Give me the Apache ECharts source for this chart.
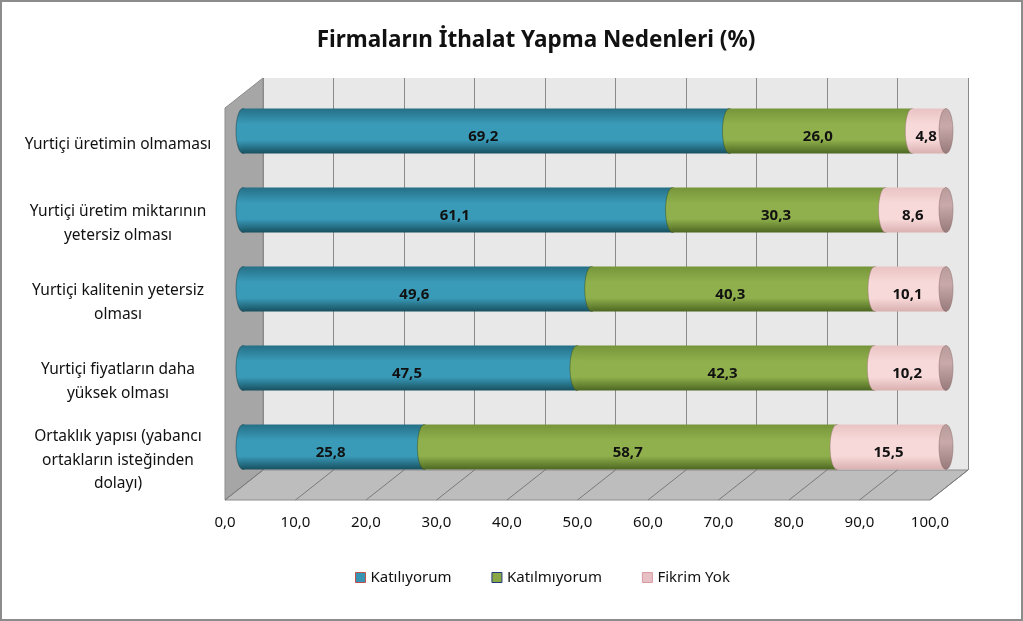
<!DOCTYPE html>
<html>
<head>
<meta charset="utf-8">
<script src="https://cdn.jsdelivr.net/npm/echarts@6/dist/echarts.min.js"></script>
<style>
  html, body { margin: 0; padding: 0; background: #fff; }
  #main { width: 1023px; height: 621px; }
</style>
</head>
<body>
<div id="main"></div>
<script>
const categories = [
  "Yurtiçi üretimin olmaması",
  "Yurtiçi üretim miktarının\nyetersiz olması",
  "Yurtiçi kalitenin yetersiz\nolması",
  "Yurtiçi fiyatların daha\nyüksek olması",
  "Ortaklık yapısı (yabancı\nortakların isteğinden\ndolayı)"
];
const katiliyorum = [69.2, 61.1, 49.6, 47.5, 25.8];
const katilmiyorum = [26.0, 30.3, 40.3, 42.3, 58.7];
const fikrimYok = [4.8, 8.6, 10.1, 10.2, 15.5];
const seriesNames = ["Katılıyorum", "Katılmıyorum", "Fikrim Yok"];
const xTicks = [0, 10, 20, 30, 40, 50, 60, 70, 80, 90, 100];

const W = 1023, H = 621;
// 3d kutu: ön düzlem + derinlik kaydırması
const front = { left: 225, right: 930, bottom: 500 };
const depthX = 38, depthY = 30;
const backTop = 78;
const FONT = "'Noto Sans', 'DejaVu Sans', sans-serif";

const palette = [
  { top: "#256f86", mid: "#3a9bb9", bot: "#17505f", edge: "rgba(10,50,60,0.45)", label: "#3795b3", border: "#c0504d" },
  { top: "#76953a", mid: "#8fb04c", bot: "#4d6722", edge: "rgba(50,70,20,0.45)", label: "#8aa745", border: "#1f3a7a" },
  { top: "#e9c3c3", mid: "#f8d9d9", bot: "#d9b0b0", edge: "rgba(150,110,110,0.45)", label: "#e6c0c4", border: "#d99aa0" }
];
const capColor = new echarts.graphic.LinearGradient(0, 0, 0, 1, [
  { offset: 0, color: "#b99b9b" }, { offset: 0.4, color: "#c9a9a9" }, { offset: 1, color: "#96797a" }
]);

function grad(p) {
  return new echarts.graphic.LinearGradient(0, 0, 0, 1, [
    { offset: 0, color: p.top },
    { offset: 0.35, color: p.mid },
    { offset: 0.7, color: p.mid },
    { offset: 1, color: p.bot }
  ]);
}

const stacks = [katiliyorum, katilmiyorum, fikrimYok];
function stackedData(k) {
  return categories.map((c, i) => {
    let s = 0;
    for (let j = 0; j < k; j++) s += stacks[j][i];
    return [s, i, s + stacks[k][i], stacks[k][i]];
  });
}

function barRenderer(k) {
  const p = palette[k];
  const last = k === stacks.length - 1;
  return function (params, api) {
    const cat = api.value(1);
    const p0 = api.coord([api.value(0), cat]);
    const p1 = api.coord([api.value(2), cat]);
    const h = 45, rx = 7;
    const cy = p0[1];
    const children = [
      { type: "ellipse", shape: { cx: p0[0], cy: cy, rx: rx, ry: h / 2 },
        style: { fill: grad(p), stroke: p.edge, lineWidth: 1 } },
      { type: "rect", shape: { x: p0[0], y: cy - h / 2, width: p1[0] - p0[0], height: h },
        style: { fill: grad(p) } }
    ];
    if (last) {
      children.push({ type: "ellipse", shape: { cx: p1[0], cy: cy, rx: rx, ry: h / 2 },
        style: { fill: capColor, stroke: "rgba(120,90,90,0.4)", lineWidth: 1 } });
    }
    children.push({ type: "text", x: (p0[0] + p1[0]) / 2 - 3, y: cy + 6,
      style: { text: api.value(3).toFixed(1).replace(".", ","), fill: "#111", font: "bold 15px " + FONT,
        align: "center", verticalAlign: "middle" } });
    return { type: "group", children: children };
  };
}

const chart = echarts.init(document.getElementById("main"));

const barSeries = seriesNames.map((name, k) => ({
  name: name,
  type: "custom",
  xAxisIndex: 0,
  yAxisIndex: 0,
  z: 5,
  itemStyle: { color: palette[k].label },
  renderItem: barRenderer(k),
  encode: { x: [0, 2], y: 1 },
  data: stackedData(k)
}));

const option = {
  backgroundColor: "#fff",
  animation: false,
  title: {
    text: "Firmaların İthalat Yapma Nedenleri (%)",
    left: 531,
    textAlign: "center",
    top: 24,
    textStyle: { fontFamily: FONT, fontSize: 22.5, fontWeight: "bold", color: "#111" }
  },
  legend: {
    top: 565,
    left: 350,
    itemWidth: 10,
    itemHeight: 10,
    itemGap: 40,
    textStyle: { fontFamily: FONT, fontSize: 15, color: "#111" },
    data: seriesNames.map((n, k) => ({
      name: n, icon: "rect",
      itemStyle: { color: palette[k].label, borderColor: palette[k].border, borderWidth: 1 }
    }))
  },
  grid: [
    // çubuklar
    { left: 243, right: W - 946, top: 91.5, height: 395, containLabel: false },
    // arka duvar
    { left: front.left + depthX, right: W - front.right - depthX, top: backTop,
      bottom: H - (front.bottom - depthY), show: true, backgroundColor: "#e8e8e8", borderWidth: 0 },
    // ön düzlem (etiketler, zemin)
    { left: front.left, right: W - front.right, top: front.bottom - 395, bottom: H - front.bottom }
  ],
  xAxis: [
    { gridIndex: 0, type: "value", min: 0, max: 100, show: false },
    { gridIndex: 1, type: "value", min: 0, max: 100, interval: 10,
      axisLine: { show: false }, axisTick: { show: false }, axisLabel: { show: false },
      splitLine: { show: true, lineStyle: { color: "#8a8a8a", width: 1 } } },
    { gridIndex: 2, type: "value", min: 0, max: 100, interval: 10,
      axisLine: { show: false }, axisTick: { show: false }, splitLine: { show: false },
      axisLabel: { margin: 15, color: "#111", fontFamily: FONT, fontSize: 15,
        formatter: v => v.toFixed(1).replace(".", ",") } }
  ],
  yAxis: [
    { gridIndex: 0, type: "category", data: categories, inverse: true, show: false },
    { gridIndex: 1, type: "category", data: categories, inverse: true, show: false },
    { gridIndex: 2, type: "category", data: categories, inverse: true,
      axisLine: { show: false }, axisTick: { show: false }, splitLine: { show: false },
      axisLabel: { margin: 107, align: "center", color: "#111", fontFamily: FONT, fontSize: 15.5,
        lineHeight: 23.5, padding: [6, 0, 0, 0] } }
  ],
  graphic: [
    { type: "rect", z: 100, silent: true, shape: { x: 1, y: 1, width: W - 2, height: H - 2 },
      style: { fill: "none", stroke: "#8c8c8c", lineWidth: 2 } },
    // sol duvar
    { type: "polygon", z: 0, silent: true,
      shape: { points: [[front.left, front.bottom], [front.left, backTop + depthY],
        [front.left + depthX, backTop], [front.left + depthX, front.bottom - depthY]] },
      style: { fill: "#a6a6a6", stroke: "#8c8c8c", lineWidth: 1 } },
    // zemin
    { type: "polygon", z: 0, silent: true,
      shape: { points: [[front.left, front.bottom], [front.right, front.bottom],
        [front.right + depthX, front.bottom - depthY], [front.left + depthX, front.bottom - depthY]] },
      style: { fill: "#bdbdbd", stroke: "#8c8c8c", lineWidth: 1 } }
  ],
  series: [
    {
      name: "floor",
      type: "custom",
      xAxisIndex: 2,
      yAxisIndex: 2,
      z: 3,
      silent: true,
      encode: { x: 0, y: 1 },
      renderItem: function (params, api) {
        const cs = params.coordSys;
        const x = api.coord([api.value(0), 0])[0];
        const y = cs.y + cs.height;
        return { type: "line", shape: { x1: x, y1: y, x2: x + depthX, y2: y - depthY },
          style: { stroke: "#7a7a7a", lineWidth: 1 } };
      },
      data: xTicks.map(v => [v, 0])
    }
  ].concat(barSeries)
};

chart.setOption(option);
</script>
</body>
</html>
